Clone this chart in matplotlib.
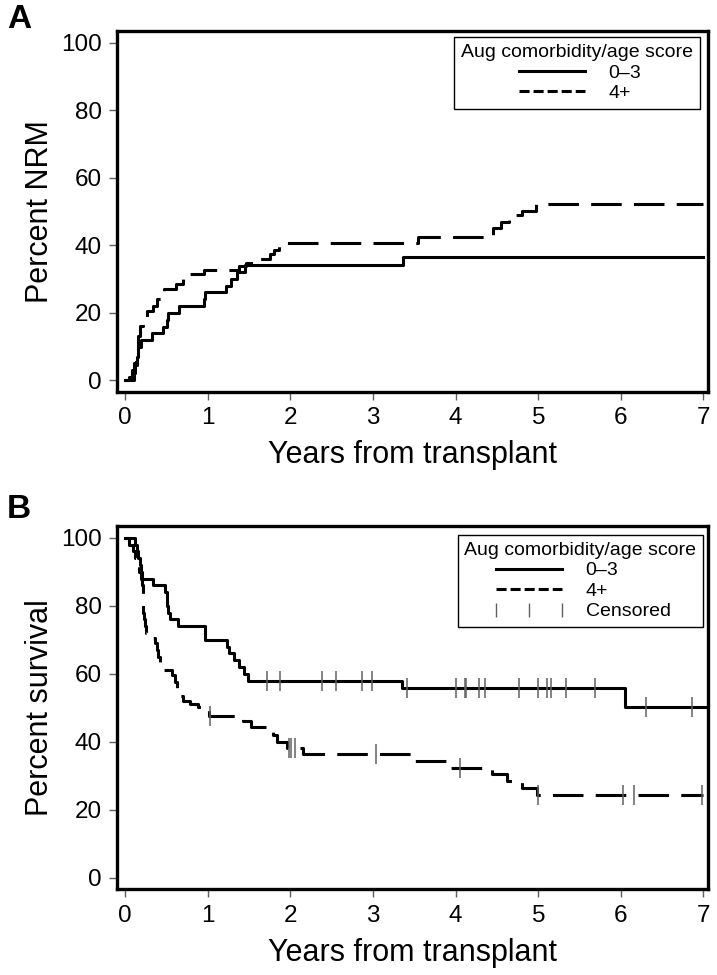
import matplotlib
matplotlib.use("Agg")
import matplotlib.pyplot as plt
from matplotlib import font_manager
from matplotlib.lines import Line2D

# =========================
# Data
# =========================
# Panel A - cumulative incidence of NRM (step times in years, percent after step)
nrm_low_t = [0.0, 0.10, 0.12, 0.14, 0.16, 0.19, 0.32, 0.46, 0.50, 0.52, 0.65,
             0.95, 0.97, 1.22, 1.28, 1.35, 1.45, 3.36, 7.0]
nrm_low_v = [0.0, 2.0, 4.4, 6.9, 9.9, 11.8, 13.8, 15.8, 17.9, 20.0, 22.0,
             24.0, 26.0, 28.0, 30.0, 32.0, 34.0, 36.5, 36.5]

nrm_high_t = [0.0, 0.05, 0.08, 0.10, 0.13, 0.16, 0.18, 0.22, 0.26, 0.33, 0.38,
              0.44, 0.47, 0.62, 0.70, 0.78, 0.95, 1.38, 1.46, 1.58, 1.75, 1.80,
              1.86, 3.55, 4.45, 4.55, 4.65, 4.80, 4.97, 7.0]
nrm_high_v = [0.0, 1.0, 3.0, 5.0, 9.0, 13.0, 16.0, 18.0, 20.5, 22.0, 24.0,
              26.0, 27.0, 28.5, 30.0, 31.5, 32.7, 33.7, 34.8, 36.0, 37.2, 38.6,
              40.7, 42.4, 44.9, 46.9, 48.9, 50.2, 52.3, 52.3]

# Panel B - overall survival
os_low_t = [0.0, 0.12, 0.14, 0.16, 0.18, 0.19, 0.20, 0.33, 0.48, 0.50, 0.51,
            0.52, 0.54, 0.64, 0.96, 0.97, 1.23, 1.26, 1.32, 1.38, 1.44, 1.49,
            3.35, 6.05, 7.02]
os_low_v = [100.0, 98.0, 96.0, 94.0, 92.0, 90.0, 88.0, 86.0, 84.0, 82.0, 80.0,
            78.0, 76.0, 74.0, 72.0, 70.0, 68.0, 66.0, 64.0, 62.0, 60.0, 58.0,
            55.9, 50.3, 50.3]
os_low_cens = [1.72, 1.87, 2.38, 2.55, 2.87, 2.99, 3.41, 4.01, 4.11, 4.13,
               4.28, 4.36, 4.77, 5.00, 5.10, 5.16, 5.33, 5.69, 6.31, 6.86]

os_high_t = [0.0, 0.05, 0.09, 0.12, 0.15, 0.17, 0.19, 0.20, 0.21, 0.212, 0.215,
             0.22, 0.23, 0.24, 0.25, 0.26, 0.36, 0.38, 0.40, 0.42, 0.44, 0.57,
             0.60, 0.63, 0.66, 0.70, 0.78, 0.88, 1.01, 1.42, 1.52, 1.79, 1.84,
             1.96, 2.15, 3.47, 3.93, 4.44, 4.62, 4.80, 4.98, 7.0]
os_high_v = [100.0, 98.0, 96.0, 94.0, 92.0, 90.0, 88.0, 86.0, 84.0, 82.0, 80.0,
             78.0, 76.0, 74.0, 72.0, 70.5, 69.0, 67.0, 65.0, 63.0, 61.0, 59.5,
             57.5, 55.5, 53.5, 52.0, 51.0, 50.2, 47.6, 46.1, 44.2, 42.0, 40.0,
             38.0, 36.4, 34.3, 32.3, 30.4, 28.3, 26.4, 24.2, 24.2]
os_high_cens = [1.02, 1.98, 2.01, 2.06, 3.03, 4.05, 5.00, 6.02, 6.16, 6.98]

x_ticks = [0, 1, 2, 3, 4, 5, 6, 7]
y_ticks = [0, 20, 40, 60, 80, 100]
group_labels = ["0\u20133", "4+"]
legend_title = "Aug comorbidity/age score"

# =========================
# Styles
# =========================
LW = 2.2
DASHES = (10, 4)
CENS_COLOR = "#606060"
FONT = ["Liberation Sans", "DejaVu Sans"]

_names = {f.name for f in font_manager.fontManager.ttflist}
NARROW = "Liberation Sans Narrow" if "Liberation Sans Narrow" in _names else "Liberation Sans"
TICK_SIZE = 19 if NARROW == "Liberation Sans Narrow" else 17.5

plt.rcParams["font.family"] = FONT


def value_at(times, values, t):
    """value of a post-step curve at time t"""
    v = values[0]
    for ti, vi in zip(times, values):
        if ti <= t:
            v = vi
    return v


def style_axes(ax, ylabel):
    ax.set_xlim(-0.1, 7.055)
    ax.set_ylim(-3.45, 103.5)
    ax.set_xticks(x_ticks)
    ax.set_yticks(y_ticks)
    for sp in ax.spines.values():
        sp.set_linewidth(2.4)
        sp.set_color("black")
    ax.tick_params(direction="out", length=6, width=1.0, color="#606060", pad=5,
                   labelsize=TICK_SIZE, labelfontfamily=NARROW)
    ax.set_xlabel("Years from transplant", fontsize=22)
    ax.set_ylabel(ylabel, fontsize=22)
    ax.xaxis.set_label_coords(0.5, -0.175)
    ax.xaxis.label.set_va("center")
    ax.yaxis.set_label_coords(-0.13, 0.5)
    ax.yaxis.label.set_va("center")


def make_legend(ax, handles, labels, anchor):
    leg = ax.legend(handles, labels, title=legend_title, loc="upper right",
                    bbox_to_anchor=anchor, borderaxespad=0, fontsize=14,
                    title_fontsize=14, handlelength=4.0, handletextpad=0.9,
                    labelspacing=0.15, borderpad=0.35, numpoints=3,
                    fancybox=False, framealpha=1, edgecolor="black")
    leg.get_frame().set_linewidth(1.0)
    return leg


def main():
    fig = plt.figure(figsize=(7.17, 9.75), dpi=100)
    ax1 = fig.add_axes([117 / 717, 1 - 391.7 / 975, 591 / 717, 361 / 975])
    ax2 = fig.add_axes([117 / 717, 1 - 889.3 / 975, 591 / 717, 363.3 / 975])

    # Panel A
    ax1.step(nrm_low_t, nrm_low_v, where="post", color="black", lw=LW)
    ax1.step(nrm_high_t, nrm_high_v, where="post", color="black", lw=LW,
             dashes=DASHES)
    style_axes(ax1, "Percent NRM")
    h_solid = Line2D([], [], color="black", lw=LW)
    h_dash = Line2D([], [], color="black", lw=LW, dashes=(3.3, 1.3))
    make_legend(ax1, [h_solid, h_dash], group_labels, (0.986, 0.982))

    # Panel B
    ax2.step(os_low_t, os_low_v, where="post", color="black", lw=LW)
    ax2.step(os_high_t, os_high_v, where="post", color="black", lw=LW,
             dashes=DASHES)
    ax2.plot(os_low_cens, [value_at(os_low_t, os_low_v, t) for t in os_low_cens],
             ls="none", marker="|", ms=14, mew=1.1, color=CENS_COLOR)
    ax2.plot(os_high_cens, [value_at(os_high_t, os_high_v, t) for t in os_high_cens],
             ls="none", marker="|", ms=14, mew=1.1, color=CENS_COLOR)
    style_axes(ax2, "Percent survival")
    h_cens = Line2D([], [], ls="none", marker="|", ms=10, mew=1.0,
                    color=CENS_COLOR)
    make_legend(ax2, [h_solid, h_dash, h_cens], group_labels + ["Censored"],
                (0.992, 0.975))

    fig.text(7 / 717, 1 - 4 / 975, "A", fontsize=24, fontweight="bold",
             ha="left", va="top")
    fig.text(7 / 717, 1 - 494 / 975, "B", fontsize=24, fontweight="bold",
             ha="left", va="top")

    fig.savefig("out.png", dpi=100)


if __name__ == "__main__":
    main()
